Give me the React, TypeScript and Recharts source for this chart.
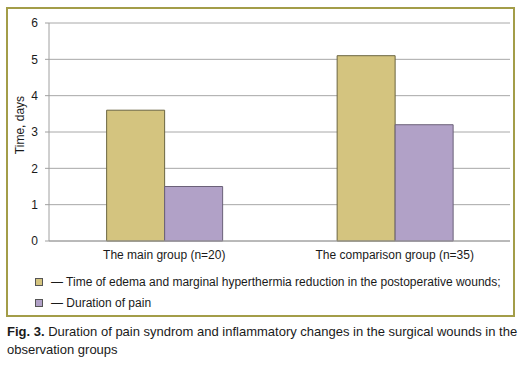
import React from 'react';
import { BarChart, Bar, XAxis, YAxis, CartesianGrid, Label } from 'recharts';

const categories = ['The main group (n=20)', 'The comparison group (n=35)'];
const edemaValues = [3.6, 5.1];
const painValues = [1.5, 3.2];
const yTicks = [0, 1, 2, 3, 4, 5, 6];
const seriesNames = [
  '— Time of edema and marginal hyperthermia reduction in the postoperative wounds;',
  '— Duration of pain',
];
const edgeTicks = [0, 1, 2];

const data = categories.map((c, i) => ({ name: c, edema: edemaValues[i], pain: painValues[i] }));

const GOLD = '#d4c47f';
const PURPLE = '#b1a1c7';
const FONT = '"Liberation Sans", Arial, sans-serif';

export default function App() {
  return (
    <div style={{ position: 'absolute', left: 0, top: 0, width: 526, height: 365, background: '#fff', fontFamily: FONT }}>
      <div style={{ position: 'absolute', left: 6, top: 7, width: 505, height: 306, border: '2px solid #a39d48' }} />
      <div style={{ position: 'absolute', left: 0, top: 0 }}>
        <BarChart
          width={526}
          height={300}
          data={data}
          margin={{ top: 23, right: 16, left: 0, bottom: 29 }}
          barCategoryGap="25%"
          barGap={0}
        >
          <CartesianGrid vertical={false} stroke="#a8a8a8" strokeWidth={1} />
          <XAxis
            xAxisId="edge"
            type="number"
            domain={[0, 2]}
            ticks={edgeTicks}
            height={0}
            axisLine={false}
            tickLine={{ stroke: '#909090' }}
            tickSize={4}
            tick={() => <g />}
          />
          <XAxis
            dataKey="name"
            height={30}
            axisLine={{ stroke: '#a0a0a0' }}
            tickLine={false}
            tickSize={4}
            tickMargin={5}
            tick={{ fill: '#1a1a1a', fontSize: 12, fontFamily: FONT }}
          />
          <YAxis
            width={49}
            domain={[0, 6]}
            ticks={yTicks}
            interval={0}
            axisLine={{ stroke: '#a0a0a0' }}
            tickLine={{ stroke: '#a0a0a0' }}
            tickSize={4}
            tickMargin={7}
            tick={{ fill: '#1a1a1a', fontSize: 12, fontFamily: FONT }}
          >
            <Label
              content={() => (
                <text
                  x={20}
                  y={125}
                  transform="rotate(-90 20 125)"
                  textAnchor="middle"
                  dominantBaseline="central"
                  fontSize={12}
                  fontFamily={FONT}
                  fill="#1a1a1a"
                >
                  Time, days
                </text>
              )}
            />
          </YAxis>
          <Bar dataKey="edema" fill={GOLD} stroke="#6b6540" strokeWidth={1} isAnimationActive={false} />
          <Bar dataKey="pain" fill={PURPLE} stroke="#6b6178" strokeWidth={1} isAnimationActive={false} />
        </BarChart>
      </div>
      {seriesNames.map((s, i) => (
        <div
          key={s}
          style={{
            position: 'absolute',
            left: 35,
            top: 274 + i * 21,
            height: 16,
            display: 'flex',
            alignItems: 'center',
            fontSize: 12,
            color: '#1a1a1a',
            whiteSpace: 'nowrap',
          }}
        >
          <span
            style={{
              display: 'inline-block',
              width: 6,
              height: 6,
              background: i === 0 ? GOLD : PURPLE,
              border: '1px solid #555',
              marginRight: 8,
            }}
          />
          <span>{s}</span>
        </div>
      ))}
      <div style={{ position: 'absolute', left: 7, top: 323, width: 519, fontSize: 13, lineHeight: '18px', color: '#1a1a1a', whiteSpace: 'nowrap' }}>
        <b>Fig. 3.</b> Duration of pain syndrom and inflammatory changes in the surgical wounds in the
        <br />
        observation groups
      </div>
    </div>
  );
}
